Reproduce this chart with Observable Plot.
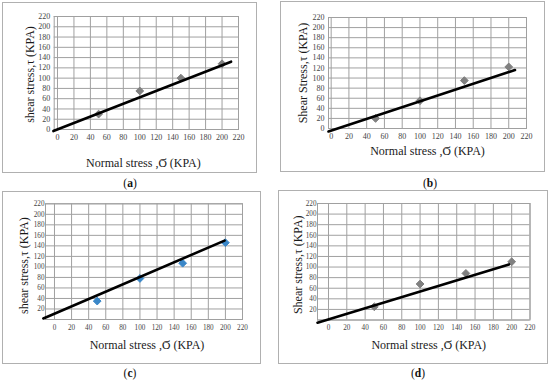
<!DOCTYPE html>
<html><head><meta charset="utf-8">
<script src="https://cdn.jsdelivr.net/npm/d3@7"></script>
<script src="https://cdn.jsdelivr.net/npm/@observablehq/plot@0.6"></script>
<style>
body{margin:0;background:#fff;width:550px;height:383px;position:relative;overflow:hidden;font-family:"Liberation Serif",serif}
.box{position:absolute;border:1px solid #b0b0b0;box-sizing:border-box}
.plot{position:absolute}
.cap{position:absolute;font-size:11.5px;color:#111;transform:translate(-50%,-50%);white-space:nowrap}
.cap b{font-weight:bold}
</style></head><body>
<script>
// ---- data ----
const xTicks = [0, 20, 40, 60, 80, 100, 120, 140, 160, 180, 200, 220];
const yTicksFull = [0, 20, 40, 60, 80, 100, 120, 140, 160, 180, 200, 220];
const yTicksNoZero = [20, 40, 60, 80, 100, 120, 140, 160, 180, 200, 220];
const normalStress = [50, 100, 150, 200];
const shearA = [30, 75, 100, 128];
const shearB = [20, 55, 95, 122];
const shearC = [35, 78, 107, 146];
const shearD = [25, 68, 88, 110];
// trendline end points (x, y) as drawn
const trendAx = [-5, 211], trendAy = [-3, 132];
const trendBx = [-3, 207], trendBy = [-6, 116];
const trendCx = [-13, 199], trendCy = [2, 150];
const trendDx = [-12, 197], trendDy = [-5, 105];
const xTitle = "Normal stress ,Ϭ (KPA)";
const yTitles = ["shear stress,τ (KPA)", "Shear Stress,τ (KPA)", "shear stress,τ (KPA)", "Shear stress,τ (KPA)"];
const panelLetters = ["a", "b", "c", "d"];
const markerColors = ["#808080", "#808080", "#3a87c8", "#808080"];

const panels = [
  {box:[2,2,255,171], plot:[53.7,238,16,129], xDom:[-4,220], yTicks:yTicksFull, tickFs:8, tickPad:4, ys:shearA, tx:trendAx, ty:trendAy, yOff:-23.7, yShift:1.5, xDy:34, xDx:-3, cap:[130,183]},
  {box:[280,1,265,171], plot:[328,526,17,128], xDom:[-3,220], yTicks:yTicksFull, tickFs:8, tickPad:4, ys:shearB, tx:trendBx, ty:trendBy, yOff:-25, yShift:0, xDy:23, xDx:0, cap:[430,183]},
  {box:[2,191,259,173], plot:[45,242,203.3,319], xDom:[-10.5,220], yTicks:yTicksNoZero, tickFs:7.2, tickPad:1, ys:shearC, tx:trendCx, ty:trendCy, yOff:-21, yShift:4, xDy:26, xDx:3, cap:[130,373]},
  {box:[278,190,270,174], plot:[317,529.5,203,319.5], xDom:[-12,220], yTicks:yTicksNoZero, tickFs:7.2, tickPad:1, ys:shearD, tx:trendDx, ty:trendDy, yOff:-19, yShift:3, xDy:25.5, xDx:5, cap:[418,373]}
];

const gridColor = "#a0a0a0";
const serif = "'Liberation Serif', serif";
panels.forEach((p, i) => {
  const [bl, bt, bw, bh] = p.box;
  const [pl, pr, pt, pb] = p.plot;
  const box = document.createElement("div");
  box.className = "box";
  Object.assign(box.style, {left: bl + "px", top: bt + "px", width: bw + "px", height: bh + "px"});
  document.body.appendChild(box);

  const pts = normalStress.map((x, k) => ({x, y: p.ys[k]}));
  const trend = p.tx.map((x, k) => ({x, y: p.ty[k]}));
  const chart = Plot.plot({
    width: bw, height: bh,
    marginLeft: pl - bl, marginRight: bl + bw - pr, marginTop: pt - bt, marginBottom: bt + bh - pb,
    x: {domain: p.xDom},
    y: {domain: [0, 220]},
    style: {fontFamily: serif, fontSize: "8px", background: "transparent", overflow: "visible", color: "#444"},
    marks: [
      Plot.gridX(xTicks, {stroke: gridColor, strokeOpacity: 1, strokeWidth: 1}),
      Plot.gridY(yTicksFull, {stroke: gridColor, strokeOpacity: 1, strokeWidth: 1}),
      Plot.frame({stroke: gridColor, strokeWidth: 1}),
      Plot.axisX(xTicks, {tickSize: 0, tickPadding: 5, label: null, fill: "#444", fontFamily: serif, fontSize: p.tickFs}),
      Plot.axisY(p.yTicks, {tickSize: 0, tickPadding: p.tickPad, label: null, fill: "#444", fontFamily: serif, fontSize: p.tickFs}),
      Plot.dot(pts, {x: "x", y: "y", symbol: "diamond2", r: 3.5, fill: markerColors[i], stroke: markerColors[i], strokeWidth: 1}),
      Plot.line(trend, {x: "x", y: "y", stroke: "#000", strokeWidth: 2.6}),
      Plot.text([yTitles[i]], {frameAnchor: "left", textAnchor: "middle", lineAnchor: "middle", rotate: -90, dx: p.yOff, dy: p.yShift, fontSize: 12, fontFamily: serif, fill: "#1a1a1a"}),
      Plot.text([xTitle], {frameAnchor: "bottom", textAnchor: "middle", lineAnchor: "middle", dy: p.xDy, dx: p.xDx, fontSize: 12, fontFamily: serif, fill: "#1a1a1a"})
    ]
  });
  chart.classList.add("plot");
  chart.style.left = bl + "px";
  chart.style.top = bt + "px";
  document.body.appendChild(chart);

  const cap = document.createElement("div");
  cap.className = "cap";
  cap.style.left = p.cap[0] + "px";
  cap.style.top = p.cap[1] + "px";
  cap.append("(");
  const b = document.createElement("b");
  b.textContent = panelLetters[i];
  cap.append(b, ")");
  document.body.appendChild(cap);
});
</script>
</body></html>
